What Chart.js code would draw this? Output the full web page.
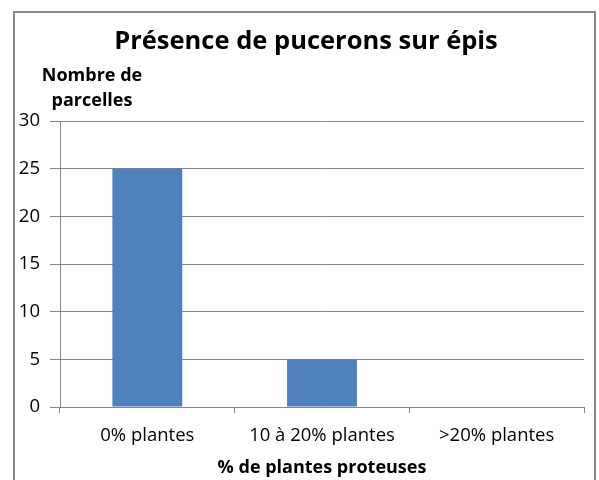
<!DOCTYPE html>
<html>
<head>
<meta charset="utf-8">
<script src="https://cdn.jsdelivr.net/npm/chart.js@4/dist/chart.umd.min.js"></script>
<style>
    html, body { margin: 0; padding: 0; background: #fff; }
    #wrap { width: 599px; height: 480px; }
</style>
</head>
<body>
<div id="wrap"><canvas id="pucChart" width="599" height="480"></canvas></div>
<script>
const categories = ['0% plantes', '10 à 20% plantes', '>20% plantes'];
const parcelles = [25, 5, 0];
const yMax = 30;
const yStep = 5;
const chartTitle = 'Présence de pucerons sur épis';
const yTitle = ['Nombre de', 'parcelles'];
const xTitle = '% de plantes proteuses';

const fontFamily = "'Open Sans', Lato, sans-serif";

// frame, title centred on the frame, and the horizontal y title above the axis
const framePlugin = {
    id: 'frame',
    beforeDraw(chart) {
        const ctx = chart.ctx;
        ctx.save();
        ctx.fillStyle = '#fff';
        ctx.fillRect(0, 0, chart.width, chart.height);
        ctx.strokeStyle = '#8a8a8a';
        ctx.lineWidth = 2;
        ctx.strokeRect(14, 12, 581, 480);
        ctx.restore();
    },
    afterDraw(chart) {
        const ctx = chart.ctx;
        ctx.save();
        ctx.fillStyle = '#000';
        ctx.textAlign = 'center';
        ctx.textBaseline = 'middle';
        ctx.font = "bold 25.5px " + fontFamily;
        ctx.fillText(chartTitle, 306, 42);
        ctx.font = "bold 18px " + fontFamily;
        ctx.fillText(yTitle[0], 92, 76);
        ctx.fillText(yTitle[1], 92, 101);
        ctx.restore();
    }
};

const ctx = document.getElementById('pucChart').getContext('2d');
new Chart(ctx, {
    type: 'bar',
    data: {
        labels: categories,
        datasets: [{
            label: 'Nombre de parcelles',
            data: parcelles,
            backgroundColor: '#4f81bd',
            borderWidth: 0,
            barPercentage: 1,
            categoryPercentage: 0.4
        }]
    },
    options: {
        responsive: false,
        animation: false,
        layout: { padding: { left: 0, right: 15, top: 121, bottom: 0 } },
        plugins: {
            legend: { display: false },
            tooltip: { enabled: false },
            title: { display: false }
        },
        scales: {
            x: {
                offset: true,
                grid: {
                    offset: true,
                    drawOnChartArea: false,
                    drawTicks: true,
                    tickLength: 6,
                    color: '#868686'
                },
                border: { color: '#868686' },
                ticks: {
                    color: '#000',
                    padding: 12,
                    maxRotation: 0,
                    font: { family: fontFamily, size: 18.5 }
                },
                title: {
                    display: true,
                    text: xTitle,
                    color: '#000',
                    font: { family: fontFamily, size: 18, weight: 'bold' },
                    padding: { top: 2, bottom: 1 }
                },
                afterFit(scale) { scale.height = 73; }
            },
            y: {
                min: 0,
                max: yMax,
                grid: {
                    color: '#868686',
                    tickLength: 10
                },
                border: { color: '#868686' },
                ticks: {
                    stepSize: yStep,
                    color: '#000',
                    padding: 10,
                    font: { family: fontFamily, size: 18.5 }
                },
                afterFit(scale) { scale.width = 60; }
            }
        }
    },
    plugins: [framePlugin]
});
</script>
</body>
</html>
